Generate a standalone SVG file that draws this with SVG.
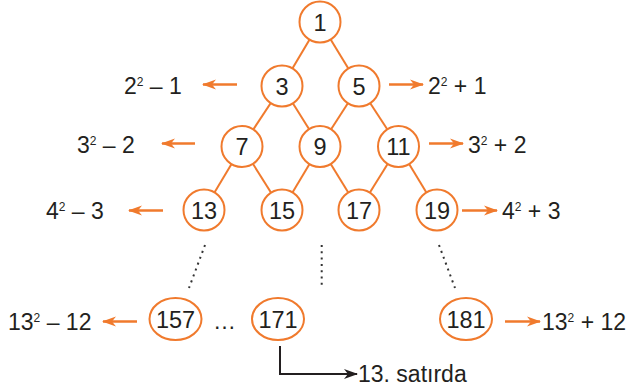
<svg xmlns="http://www.w3.org/2000/svg" width="635" height="391" viewBox="0 0 635 391">
  <style>
    .node ellipse, .node circle { fill: #fff; stroke: #F07A2D; stroke-width: 2; }
    .node text { font-family: "Liberation Sans", Arial, sans-serif; font-size: 23.5px; fill: #231F20; text-anchor: middle; }
    .lbl { font-family: "Liberation Sans", Arial, sans-serif; font-size: 23px; fill: #231F20; }
    .sup { font-size: 12px; }
    .edge { stroke: #F07A2D; stroke-width: 2; fill: none; }
    .arrow { stroke: #F07A2D; stroke-width: 2.5; fill: none; marker-end: url(#orangeHead); }
    .dots { stroke: #333; stroke-width: 2; stroke-dasharray: 2 4.3; fill: none; }
  </style>
  <defs>
    <marker id="orangeHead" markerUnits="userSpaceOnUse" markerWidth="14" markerHeight="12" refX="13" refY="6" orient="auto">
      <path d="M0,1 L14,6 L0,11 L4,6 z" fill="#F07A2D"/>
    </marker>
    <marker id="blackHead" markerUnits="userSpaceOnUse" markerWidth="14" markerHeight="12" refX="13" refY="6" orient="auto">
      <path d="M0,1 L14,6 L0,11 L4,6 z" fill="#231F20"/>
    </marker>
  </defs>

  <!-- connectors -->
  <g id="connectors">
    <line class="edge" x1="320" y1="22" x2="282" y2="86"/>
    <line class="edge" x1="320" y1="22" x2="359" y2="86"/>
    <line class="edge" x1="282" y1="86" x2="242" y2="146.5"/>
    <line class="edge" x1="282" y1="86" x2="320" y2="146.5"/>
    <line class="edge" x1="359" y1="86" x2="320" y2="146.5"/>
    <line class="edge" x1="359" y1="86" x2="398.5" y2="146.5"/>
    <line class="edge" x1="242" y1="146.5" x2="204" y2="210"/>
    <line class="edge" x1="242" y1="146.5" x2="282" y2="210"/>
    <line class="edge" x1="320" y1="146.5" x2="282" y2="210"/>
    <line class="edge" x1="320" y1="146.5" x2="359" y2="210"/>
    <line class="edge" x1="398.5" y1="146.5" x2="359" y2="210"/>
    <line class="edge" x1="398.5" y1="146.5" x2="437" y2="210"/>

    <!-- dotted continuation -->
    <line class="dots" x1="205" y1="245" x2="189" y2="288"/>
    <line class="dots" x1="321.7" y1="245" x2="321.7" y2="288"/>
    <line class="dots" x1="439" y1="245" x2="455" y2="288"/>

    <!-- side arrows -->
    <line class="arrow" x1="237" y1="84.5" x2="203" y2="84.5"/>
    <line class="arrow" x1="389" y1="84.5" x2="423" y2="84.5"/>
    <line class="arrow" x1="195" y1="143.5" x2="162" y2="143.5"/>
    <line class="arrow" x1="429" y1="143.5" x2="463" y2="143.5"/>
    <line class="arrow" x1="163" y1="210.5" x2="129" y2="210.5"/>
    <line class="arrow" x1="462" y1="210.5" x2="497" y2="210.5"/>
    <line class="arrow" x1="137" y1="321.5" x2="103" y2="321.5"/>
    <line class="arrow" x1="505" y1="321.5" x2="540" y2="321.5"/>

    <!-- pointer from 171 -->
    <path d="M280,346 V374 H357" fill="none" stroke="#231F20" stroke-width="2" marker-end="url(#blackHead)"/>
  </g>

  <!-- nodes -->
  <g id="n1" class="node"><circle cx="320" cy="22" r="20.5"/><text x="320" y="30.5">1</text></g>
  <g id="n3" class="node"><circle cx="282" cy="86" r="20.5"/><text x="282" y="94.5">3</text></g>
  <g id="n5" class="node"><circle cx="359" cy="86" r="20.5"/><text x="359" y="94.5">5</text></g>
  <g id="n7" class="node"><circle cx="242" cy="146.5" r="20.5"/><text x="242" y="155">7</text></g>
  <g id="n9" class="node"><circle cx="320" cy="146.5" r="20.5"/><text x="320" y="155">9</text></g>
  <g id="n11" class="node"><circle cx="398.5" cy="146.5" r="20.5"/><text x="398.5" y="155">11</text></g>
  <g id="n13" class="node"><circle cx="204" cy="210" r="20.5"/><text x="204" y="218.5">13</text></g>
  <g id="n15" class="node"><circle cx="282" cy="210" r="20.5"/><text x="282" y="218.5">15</text></g>
  <g id="n17" class="node"><circle cx="359" cy="210" r="20.5"/><text x="359" y="218.5">17</text></g>
  <g id="n19" class="node"><circle cx="437" cy="210" r="20.5"/><text x="437" y="218.5">19</text></g>
  <g id="n157" class="node"><ellipse cx="175.5" cy="319" rx="26" ry="21"/><text x="175.5" y="327.5">157</text></g>
  <g id="n171" class="node"><ellipse cx="278" cy="319" rx="26" ry="21"/><text x="278" y="327.5">171</text></g>
  <g id="n181" class="node"><ellipse cx="466" cy="319" rx="26" ry="21"/><text x="466" y="327.5">181</text></g>

  <!-- labels -->
  <g id="labels">
    <text class="lbl" x="124" y="93.5">2<tspan class="sup" dy="-8">2</tspan><tspan dy="8"> – 1</tspan></text>
    <text class="lbl" x="77" y="152.5">3<tspan class="sup" dy="-8">2</tspan><tspan dy="8"> – 2</tspan></text>
    <text class="lbl" x="46" y="219">4<tspan class="sup" dy="-8">2</tspan><tspan dy="8"> – 3</tspan></text>
    <text class="lbl" x="8" y="330">13<tspan class="sup" dy="-8">2</tspan><tspan dy="8"> – 12</tspan></text>
    <text class="lbl" x="428" y="93.5">2<tspan class="sup" dy="-8">2</tspan><tspan dy="8"> + 1</tspan></text>
    <text class="lbl" x="468" y="152.5">3<tspan class="sup" dy="-8">2</tspan><tspan dy="8"> + 2</tspan></text>
    <text class="lbl" x="502" y="219">4<tspan class="sup" dy="-8">2</tspan><tspan dy="8"> + 3</tspan></text>
    <text class="lbl" x="542" y="330">13<tspan class="sup" dy="-8">2</tspan><tspan dy="8"> + 12</tspan></text>
    <text class="lbl" x="213" y="329">…</text>
    <text class="lbl" x="358" y="382">13. satırda</text>
  </g>
</svg>
